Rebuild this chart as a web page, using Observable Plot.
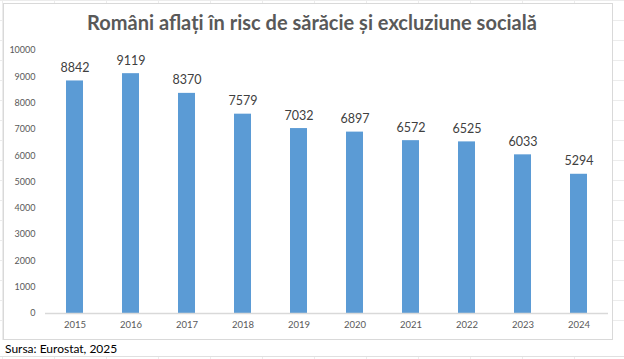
<!DOCTYPE html>
<html><head><meta charset="utf-8">
<script src="https://cdn.jsdelivr.net/npm/d3@7"></script>
<script src="https://cdn.jsdelivr.net/npm/@observablehq/plot@0.6"></script>
<style>
html,body{margin:0;padding:0;width:624px;height:359px;overflow:hidden;background:#fff;}
body{position:relative;font-family:Lato,"Open Sans",sans-serif;
 background-image:linear-gradient(to right,#ececec 1px,transparent 1px),linear-gradient(to bottom,#ececec 1px,transparent 1px);
 background-size:52px 20px;background-position:2px 0;}
#frame{position:absolute;left:3px;top:3px;width:608px;height:335px;background:#fff;border:1px solid #d9d9d9;}
#title{position:absolute;left:0;top:10px;width:624px;text-align:center;font-weight:bold;font-size:20px;color:#595959;}
#chart{position:absolute;left:0;top:38px;}
#caption{position:absolute;left:0;top:340px;width:624px;height:17px;background:#fff;border-bottom:1px solid #e0e0e0;font-size:12px;color:#000;padding-left:5px;line-height:17px;box-sizing:border-box;}
</style></head><body>
<div id="frame"></div>
<div id="title">Români aflați în risc de sărăcie și excluziune socială</div>
<div id="chart"></div>
<div id="caption">Sursa: Eurostat, 2025</div>
<script>
const years = ["2015","2016","2017","2018","2019","2020","2021","2022","2023","2024"];
const values = [8842,9119,8370,7579,7032,6897,6572,6525,6033,5294];
const yTicks = [0,1000,2000,3000,4000,5000,6000,7000,8000,9000,10000];
const data = years.map((y,i)=>({year:y,value:values[i]}));
const chart = Plot.plot({
  width:624, height:300,
  marginLeft:45, marginRight:16, marginTop:12, marginBottom:25,
  style:{background:"transparent",fontFamily:"Lato, 'Open Sans', sans-serif",color:"#595959"},
  x:{domain:years, paddingInner:0.7, paddingOuter:0.35, label:null},
  y:{domain:[0,10000], label:null},
  marks:[
    Plot.axisY({ticks:yTicks, tickFormat:d=>String(d), tickSize:0, tickPadding:10, fontSize:9, fill:"#595959"}),
    Plot.axisX({tickSize:0, tickPadding:8, fontSize:9.5, fill:"#595959"}),
    Plot.barY(data,{x:"year",y:"value",fill:"#5B9BD5"}),
    Plot.ruleY([0],{stroke:"#d9d9d9",strokeWidth:1.5}),
    Plot.text(data,{x:"year",y:"value",text:d=>String(d.value),dy:-13,fontSize:12.5,fill:"#404040"})
  ]
});
document.getElementById("chart").appendChild(chart);
</script>
</body></html>
